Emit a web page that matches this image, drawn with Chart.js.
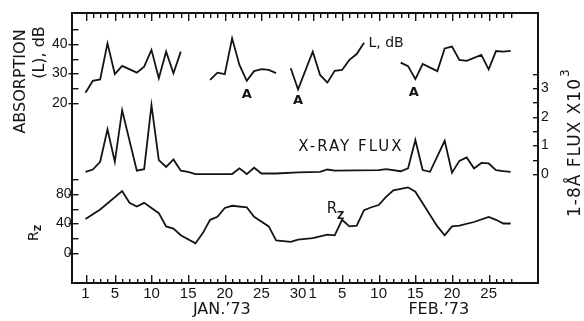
<!DOCTYPE html>
<html>
<head>
<meta charset="utf-8">
<script src="https://cdn.jsdelivr.net/npm/chart.js@4.4.1/dist/chart.umd.min.js"></script>
<style>
  html, body { margin: 0; padding: 0; background: #fff; }
  canvas { display: block; }
</style>
</head>
<body>
<canvas id="myChart" width="584" height="321"></canvas>
<script>
'use strict';

// day number counted from Jan 1 1973 (Feb 1 = 32)
// absorption L in dB, null = no record
var absDays = [1, 2, 3, 4, 5, 6, 8, 9, 10, 11, 12, 13, 14, 16,
  18, 19, 20, 21, 22, 23, 24, 25, 26, 27, 28,
  29, 30, 32, 33, 34, 35, 36, 37, 38, 39, 42,
  44, 45, 46, 47, 49, 50, 51, 52, 53, 55, 56, 57, 58, 59];
var absDb = [23.5, 27.5, 28, 40.2, 29.8, 32.6, 30.3, 32.3, 38, 28.4, 37.4, 30.1, 37.4, null,
  27.8, 30.3, 29.8, 41.9, 32.9, 27.5, 30.8, 31.5, 31.2, 30.1, null,
  31.8, 24.6, 37.4, 29.5, 26.9, 30.9, 31.2, 34.6, 36.6, 40.4, null,
  33.7, 32.5, 28.1, 33.2, 30.8, 38.5, 39.1, 34.6, 34.3, 36.3, 31.4, 37.6, 37.4, 37.7];

// 1-8 A x-ray flux (x 10^3)
var fluxDays = [1, 2, 3, 4, 5, 6, 8, 9, 10, 11, 12, 13, 14, 15, 16, 21, 22, 23, 24, 25, 27,
  30, 33, 34, 35, 41, 42, 44, 45, 46, 47, 48, 50, 51, 52, 53, 54, 55, 56, 57, 58, 59];
var flux = [0.08, 0.16, 0.43, 1.56, 0.43, 2.23, 0.12, 0.17, 2.41, 0.49, 0.25, 0.51, 0.12, 0.08, 0, 0, 0.2, 0, 0.22, 0.02, 0.02,
  0.06, 0.08, 0.16, 0.12, 0.14, 0.17, 0.1, 0.2, 1.19, 0.14, 0.08, 1.16, 0.05, 0.46, 0.58, 0.2, 0.39, 0.37, 0.14, 0.1, 0.08];

// sunspot number Rz
var rzDays = [1, 3, 6, 7, 8, 9, 10, 11, 12, 13, 14, 16, 17, 18, 19, 20, 21, 23, 24, 26, 27,
  29, 30, 31, 32, 34, 35, 36, 37, 38, 39, 40, 41, 42, 43, 45, 46, 49, 50, 51, 52, 54, 56, 57, 58, 59];
var rz = [46, 59, 84, 68, 63, 68, 61, 54, 36, 33, 24, 13, 27, 45, 49, 61, 64, 62, 49, 36, 17,
  15, 18, 19, 20, 25, 24, 45, 36, 37, 58, 62, 65, 76, 85, 89, 83, 36, 24, 36, 37, 42, 49, 45, 40, 40];

// tick marks and labels
var tickDays = [];
for (var d = 1; d <= 59; d++) tickDays.push(d);
var labelDays = [1, 5, 10, 15, 20, 25, 30, 32, 36, 41, 46, 51, 56];
var labelText = ['1', '5', '10', '15', '20', '25', '30', '1', '5', '10', '15', '20', '25'];
var absTicks = [20, 25, 30, 35, 40, 45];
var rzTicks = [0, 20, 40, 60, 80, 100];
var fluxTicks = [0, 0.5, 1, 1.5, 2, 2.5, 3, 3.5];

var ink = '#141414';
var xMin = -0.91, xMax = 62.73;

function pts(xs, ys) {
  return xs.map(function (x, i) { return {x: x, y: ys[i]}; });
}
function setTicks(list) {
  return function (ax) { ax.ticks = list.map(function (v) { return {value: v}; }); };
}
// keep the plot box where the figure has it
function noPad(size, dim) {
  return function (ax) {
    if (dim) ax[dim] = size;
    ax.paddingTop = 0; ax.paddingBottom = 0; ax.paddingLeft = 0; ax.paddingRight = 0;
  };
}

// inward tick marks on all four sides, placed through the scales
var innerTicks = {
  id: 'innerTicks',
  afterDraw: function (chart) {
    var ctx = chart.ctx, a = chart.chartArea, s = chart.scales;
    var top = Math.round(a.top), bottom = Math.round(a.bottom);
    ctx.save();
    ctx.setTransform(1, 0, 0, 1, 0, 0);
    ctx.globalAlpha = 1;
    ctx.globalCompositeOperation = 'source-over';
    ctx.fillStyle = ink;
    tickDays.forEach(function (v) {
      var px = Math.round(s.x.getPixelForValue(v));
      var major = labelDays.indexOf(v) >= 0;
      var lb = major ? 8 : 4, lt = major ? 8 : 5;
      ctx.fillRect(px, bottom - lb, 1.4, lb);
      ctx.fillRect(px, top, 1.4, lt);
    });
    absTicks.forEach(function (v) {
      var py = Math.round(s.yA.getPixelForValue(v));
      var out = v % 10 === 0 ? 3 : 0;
      ctx.fillRect(a.left - out, py, 7 + out, 1.4);
    });
    rzTicks.forEach(function (v) {
      var py = Math.round(s.yR.getPixelForValue(v));
      var out = v % 40 === 0 ? 3 : 0;
      ctx.fillRect(a.left - out, py, 7 + out, 1.4);
    });
    fluxTicks.forEach(function (v) {
      var py = Math.round(s.yX.getPixelForValue(v));
      ctx.fillRect(a.right - 5, py, 5, 1.4);
    });
    ctx.restore();
  }
};

// free text of the figure, drawn after the chart
var figureText = {
  id: 'figureText',
  afterDraw: function (chart) {
    var ctx = chart.ctx, a = chart.chartArea, s = chart.scales;
    function put(str, x, y, font, align, base, rot, spacing) {
      ctx.save();
      ctx.translate(x, y);
      if (rot) ctx.rotate(rot);
      ctx.font = font;
      ctx.textAlign = align || 'center';
      ctx.textBaseline = base || 'alphabetic';
      ctx.letterSpacing = spacing || '0px';
      ctx.fillStyle = ink;
      ctx.fillText(str, 0, 0);
      var w = ctx.measureText(str).width;
      ctx.restore();
      return w;
    }
    var up = -Math.PI / 2;
    // left titles
    put('ABSORPTION', 25, 81.5, '16px "DejaVu Sans"', 'center', 'alphabetic', up);
    put('(L), dB', 44, 52.5, '16px "DejaVu Sans"', 'center', 'alphabetic', up);
    ctx.save();
    ctx.translate(38, 241);
    ctx.rotate(up);
    ctx.fillStyle = ink;
    ctx.font = '14px "DejaVu Sans"';
    ctx.textAlign = 'left';
    ctx.fillText('R', 0, 0);
    var rw = ctx.measureText('R').width;
    ctx.font = 'bold 9px "DejaVu Sans"';
    ctx.fillText('Z', rw, 3);
    ctx.restore();
    // right title
    ctx.save();
    ctx.translate(580, 217);
    ctx.rotate(up);
    ctx.fillStyle = ink;
    ctx.font = '17px "DejaVu Sans"';
    ctx.letterSpacing = '1px';
    ctx.textAlign = 'left';
    ctx.fillText('1-8Å FLUX X10', 0, 0);
    var tw = ctx.measureText('1-8Å FLUX X10').width;
    ctx.font = '12px "DejaVu Sans"';
    ctx.fillText('3', tw + 1, -11);
    ctx.restore();
    // labels inside the plot
    put('L, dB', s.x.getPixelForValue(39.6), s.yA.getPixelForValue(40.3), '14px "DejaVu Sans"', 'left', 'middle');
    put('A', s.x.getPixelForValue(23), s.yA.getPixelForValue(22.7), 'bold 13px "DejaVu Sans"', 'center', 'middle');
    put('A', s.x.getPixelForValue(30), s.yA.getPixelForValue(20.7), 'bold 13px "DejaVu Sans"', 'center', 'middle');
    put('A', s.x.getPixelForValue(45.8), s.yA.getPixelForValue(23.4), 'bold 13px "DejaVu Sans"', 'center', 'middle');
    put('X-RAY FLUX', s.x.getPixelForValue(37.2), s.yX.getPixelForValue(0.94), '15px "DejaVu Sans"', 'center', 'middle', 0, '2px');
    var rx = s.x.getPixelForValue(33.9), ry = s.yR.getPixelForValue(54);
    var w1 = put('R', rx, ry, '15px "DejaVu Sans"', 'left', 'alphabetic');
    put('Z', rx + w1, ry + 6, 'bold 10px "DejaVu Sans"', 'left', 'alphabetic');
    // month names
    put('JAN.\u201973', s.x.getPixelForValue(19.6), a.bottom + 27, '16px "DejaVu Sans"', 'center', 'middle');
    put('FEB.\u201973', s.x.getPixelForValue(49.2), a.bottom + 27, '16px "DejaVu Sans"', 'center', 'middle');
  }
};

var lineStyle = {borderColor: ink, borderWidth: 1.8, pointRadius: 0, tension: 0, fill: false, spanGaps: false, xAxisID: 'x'};
var tickFont = {family: 'Liberation Sans', size: 14};
var noGrid = {display: false, drawTicks: false};

var myChart = new Chart(document.getElementById('myChart'), {
  type: 'line',
  data: {
    datasets: [
      Object.assign({label: 'L, dB', data: pts(absDays, absDb), yAxisID: 'yA'}, lineStyle),
      Object.assign({label: 'X-RAY FLUX', data: pts(fluxDays, flux), yAxisID: 'yX'}, lineStyle),
      Object.assign({label: 'Rz', data: pts(rzDays, rz), yAxisID: 'yR'}, lineStyle)
    ]
  },
  options: {
    responsive: false,
    animation: false,
    devicePixelRatio: 1,
    layout: {padding: 0},
    plugins: {legend: {display: false}, tooltip: {enabled: false}},
    scales: {
      x: {
        type: 'linear', axis: 'x', position: 'bottom', min: xMin, max: xMax,
        afterBuildTicks: setTicks(tickDays),
        afterFit: noPad(38, 'height'),
        ticks: {
          autoSkip: false, maxRotation: 0, padding: 2, color: ink, font: {family: 'Liberation Sans', size: 15},
          callback: function (v) { var i = labelDays.indexOf(v); return i < 0 ? '' : labelText[i]; }
        },
        grid: noGrid,
        border: {display: true, color: ink, width: 2}
      },
      xTop: {
        type: 'linear', axis: 'x', position: 'top', min: xMin, max: xMax,
        afterBuildTicks: setTicks(tickDays),
        afterFit: noPad(13, 'height'),
        ticks: {display: false},
        grid: noGrid,
        border: {display: true, color: ink, width: 2}
      },
      yA: {
        type: 'linear', axis: 'y', position: 'left', min: -41, max: 50.5,
        afterBuildTicks: setTicks(absTicks),
        afterFit: noPad(71.5, 'width'),
        ticks: {autoSkip: false, padding: 4, color: ink, font: tickFont,
          callback: function (v) { return v % 10 === 0 ? String(v) : ''; }},
        grid: noGrid,
        border: {display: true, color: ink, width: 2}
      },
      yR: {
        type: 'linear', axis: 'y', position: {x: xMin}, min: -40.7, max: 325.4,
        afterBuildTicks: setTicks(rzTicks),
        afterFit: noPad(),
        ticks: {autoSkip: false, padding: 4, color: ink, font: tickFont,
          callback: function (v) { return v % 40 === 0 ? String(v) : ''; }},
        grid: noGrid,
        border: {display: false}
      },
      yX: {
        type: 'linear', axis: 'y', position: 'right', min: -3.8, max: 5.62,
        afterBuildTicks: setTicks(fluxTicks),
        afterFit: noPad(46, 'width'),
        ticks: {autoSkip: false, padding: 3, color: ink, font: tickFont,
          callback: function (v) { return (v % 1 === 0 && v <= 3) ? String(v) : ''; }},
        grid: noGrid,
        border: {display: true, color: ink, width: 2}
      }
    }
  },
  plugins: [innerTicks, figureText]
});
</script>
</body>
</html>
